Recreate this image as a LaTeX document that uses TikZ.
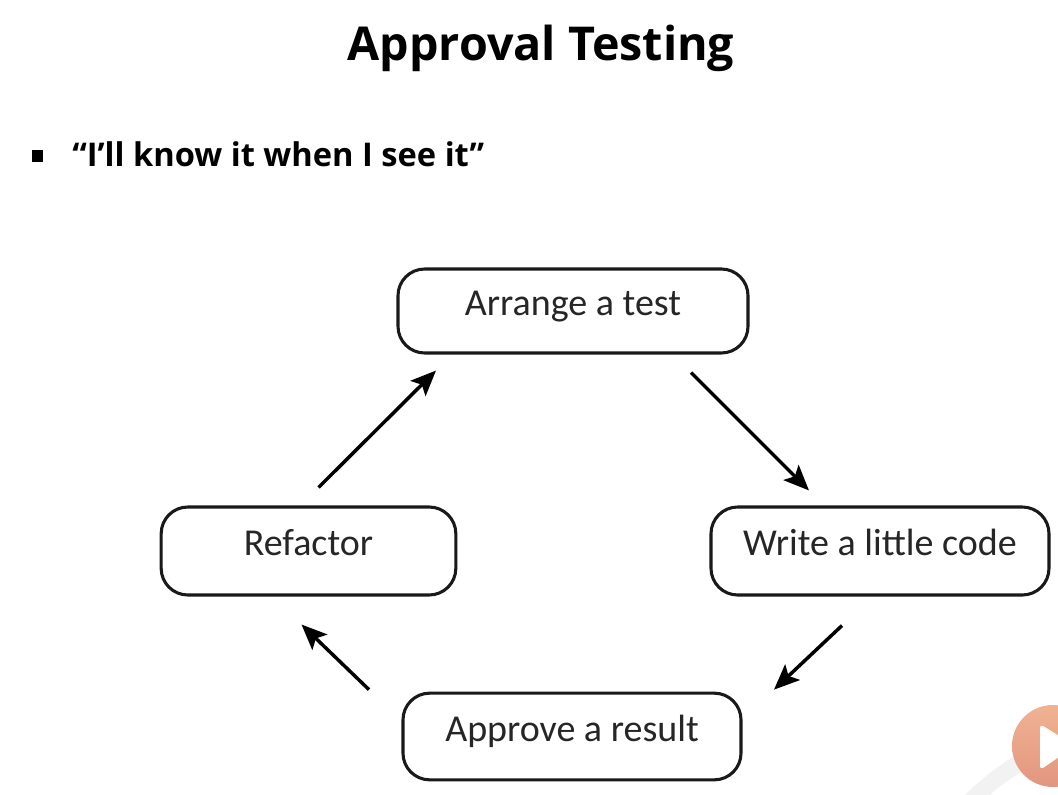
\documentclass[tikz,border=0pt]{standalone}
\usepackage{fontspec}
\setmainfont{Open Sans}
\newfontfamily\handfont{Carlito}
\usetikzlibrary{arrows.meta}
\definecolor{playtop}{RGB}{240,178,146}
\definecolor{playbot}{RGB}{226,150,128}
\tikzset{
  stepbox/.style={draw=black!90, line width=2.3pt, rounded corners=20pt, fill=white, align=center,
    font=\handfont\fontsize{28.5}{32}\selectfont, text=black!85, inner sep=0pt, text height=14pt, text depth=7pt},
  flow/.style={draw=black, line width=2.6pt, -{Stealth[length=19pt,width=16pt,inset=4pt]}}
}
\begin{document}
\begin{tikzpicture}[x=0.75pt,y=-0.75pt]
\useasboundingbox (0,0) rectangle (1058,795);
\fill[white] (0,0) rectangle (1058,795);
\begin{scope}
\clip (0,0) rectangle (1058,795);
\fill[black!5] (965,795) .. controls (985,775) and (1005,762) .. (1020,752) -- (1035,765) .. controls (1020,772) and (1000,785) .. (990,795) -- cycle;
\shade[top color=playtop, bottom color=playbot] (1053,746) circle (41);
\fill[white, rounded corners=3pt] (1040,724) -- (1075,746) -- (1040,770) -- cycle;
\end{scope}
\node[font=\bfseries\fontsize{35}{40}\selectfont, text=black] (title) at (541,48) {Approval Testing};
\node[font=\bfseries\fontsize{24.5}{28}\selectfont, text=black, anchor=base west, inner sep=0pt] (quote) at (72,167) {“I’ll know it when I see it”};
\node[fill=black, minimum width=8.5pt, minimum height=9pt, inner sep=0pt] (bullet) at (37.5,156) {};
\node[stepbox, minimum width=262.5pt, minimum height=63pt] (arrange) at (573,311) {Arrange a test};
\node[stepbox, minimum width=221pt, minimum height=66pt] (refactor) at (308.5,551) {Refactor};
\node[stepbox, minimum width=253.5pt, minimum height=66pt] (write) at (880,551) {Write a little code};
\node[stepbox, minimum width=253.5pt, minimum height=65pt] (approve) at (572,736.5) {Approve a result};
\draw[flow] ([shift={(10,-18)}]refactor.north) -- ([shift={(-137,16)}]arrange.south);
\draw[flow] ([shift={(118,18)}]arrange.south) -- ([shift={(-71,-15)}]write.north);
\draw[flow] ([shift={(-38,29)}]write.south) -- ([shift={(202,-2)}]approve.north);
\draw[flow] ([shift={(-203,-2)}]approve.north) -- ([shift={(-7,28)}]refactor.south);
\end{tikzpicture}
\end{document}
